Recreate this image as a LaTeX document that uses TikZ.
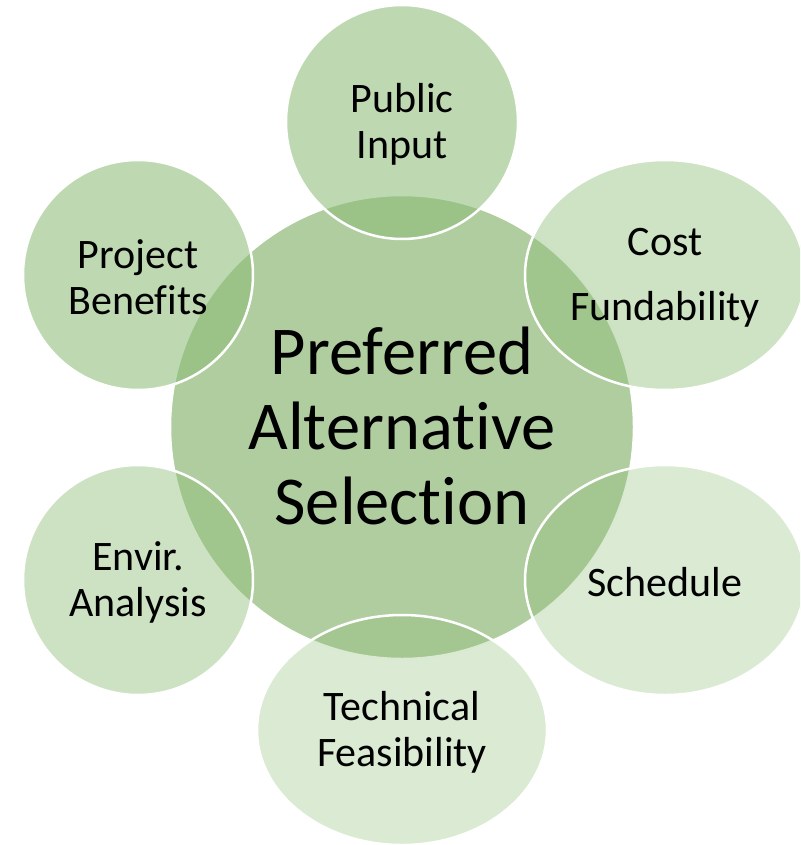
\documentclass[tikz,border=0pt]{standalone}
\usepackage{fontspec}
\setmainfont{Carlito}[Ligatures={NoCommon}]
\usetikzlibrary{shapes.geometric}
\definecolor{hub}{RGB}{176,205,160}
\definecolor{petal}{RGB}{140,189,118}
\begin{document}
\begin{tikzpicture}[x=1pt,y=-1pt,
  hubshape/.style={circle, fill=hub, draw=white, line width=2.5pt, minimum size=464pt, inner sep=0pt},
  petalshape/.style={ellipse, draw=white, line width=2.5pt, fill=petal, inner sep=0pt},
  lbl/.style={align=center, text=black, inner sep=0pt, yshift=-2.5pt, font=\fontsize{42}{46}\selectfont},
  biglbl/.style={align=center, text=black, inner sep=0pt, yshift=1pt, font=\fontsize{68.5}{75}\selectfont},
]
\useasboundingbox (0,0) rectangle (800,845);
\begin{scope}
\clip (0,0) rectangle (800,845);
\node[hubshape] (hub) at (402,427) {};
\node[petalshape, fill opacity=0.57, minimum width=232pt, minimum height=234pt] (pub) at (402,122) {};
\node[petalshape, fill opacity=0.43, minimum width=280pt, minimum height=230pt] (cost) at (665,275) {};
\node[petalshape, fill opacity=0.32, minimum width=280pt, minimum height=230pt] (sched) at (665,580) {};
\node[petalshape, fill opacity=0.32, minimum width=290pt, minimum height=230pt] (tech) at (402,730) {};
\node[petalshape, fill opacity=0.44, minimum width=230pt, minimum height=230pt] (envir) at (138,580) {};
\node[petalshape, fill opacity=0.57, minimum width=230pt, minimum height=230pt] (bene) at (138,275) {};
\end{scope}
\node[biglbl] (thub) at (hub.center) {Preferred\\Alternative\\Selection};
\node[lbl] (tpub) at (pub.center) {Public\\Input};
\node[lbl, font=\fontsize{42}{65}\selectfont] (tcost) at (cost.center) {Cost\\Fundability};
\node[lbl] (tsched) at (sched.center) {Schedule};
\node[lbl] (ttech) at (tech.center) {Technical\\Feasibility};
\node[lbl] (tenvir) at (envir.center) {Envir.\\Analysis};
\node[lbl] (tbene) at (bene.center) {Project\\Benefits};
\end{tikzpicture}
\end{document}
